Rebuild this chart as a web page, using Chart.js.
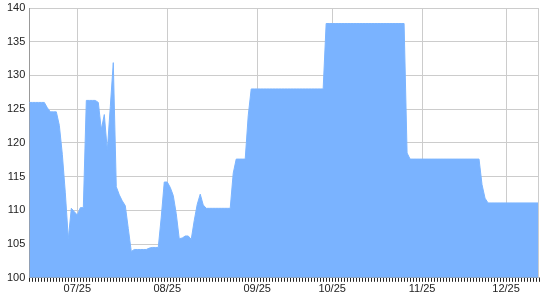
<!DOCTYPE html>
<html>
<head>
<meta charset="utf-8">
<script src="https://cdn.jsdelivr.net/npm/chart.js@4/dist/chart.umd.min.js"></script>
<style>
  html, body { margin: 0; padding: 0; background: #fff; }
  #chart { display: block; }
</style>
</head>
<body>
<canvas id="chart" width="540" height="300"></canvas>
<script>
// month tick labels and how many data points fall in each month
const monthLabels = ['06/25', '07/25', '08/25', '09/25', '10/25', '11/25', '12/25'];
const monthCounts = [16, 30, 30, 25, 30, 28, 12];

// daily values (month by month)
const junValues = [126, 126, 126, 126, 126, 126, 125.2, 124.6, 124.6, 124.6, 122.6, 118.3, 112.6, 105.8, 110.3, 109.8];
const julValues = [109.3, 110.4, 110.4, 126.3, 126.3, 126.3, 126.3, 126.0, 122.0, 124.2, 118.9, 125.4, 131.9, 113.5, 112.3,
                   111.4, 110.7, 107.3, 103.9, 104.2, 104.2, 104.2, 104.2, 104.2, 104.4, 104.5, 104.5, 104.5, 109, 114.2];
const augValues = [114.2, 113.4, 112.2, 109.5, 105.8, 105.9, 106.2, 106.2, 105.7, 108.5, 110.9, 112.4, 110.8, 110.3, 110.3,
                   110.3, 110.3, 110.3, 110.3, 110.3, 110.3, 110.3, 115.5, 117.6, 117.6, 117.6, 117.6, 124, 128, 128];
const sepValues = [128, 128, 128, 128, 128, 128, 128, 128, 128, 128, 128, 128, 128, 128, 128,
                   128, 128, 128, 128, 128, 128, 128, 128, 137.7, 137.7];
const octValues = [137.7, 137.7, 137.7, 137.7, 137.7, 137.7, 137.7, 137.7, 137.7, 137.7, 137.7, 137.7, 137.7, 137.7, 137.7,
                   137.7, 137.7, 137.7, 137.7, 137.7, 137.7, 137.7, 137.7, 137.7, 137.7, 118.5, 117.6, 117.6, 117.6, 117.6];
const novValues = [117.6, 117.6, 117.6, 117.6, 117.6, 117.6, 117.6, 117.6, 117.6, 117.6, 117.6, 117.6, 117.6, 117.6,
                   117.6, 117.6, 117.6, 117.6, 117.6, 117.6, 113.8, 111.8, 111.1, 111.1, 111.1, 111.1, 111.1, 111.1];
const decValues = [111.1, 111.1, 111.1, 111.1, 111.1, 111.1, 111.1, 111.1, 111.1, 111.1, 111.1, 111.1];

// y axis range
const yMin = 100;
const yMax = 140;
const yStep = 5;

const values = [].concat(junValues, julValues, augValues, sepValues, octValues, novValues, decValues);

// one category per point, carrying the month it belongs to
const labels = [];
monthLabels.forEach((m, i) => {
    for (let k = 0; k < monthCounts[i]; k++) labels.push(m);
});

// a month label (and grid line) only where the month changes
function isMonthStart(index) {
    return index > 0 && labels[index] !== labels[index - 1];
}

const ctx = document.getElementById('chart').getContext('2d');
new Chart(ctx, {
    type: 'line',
    data: {
        labels: labels,
        datasets: [{
            data: values,
            borderColor: '#7cb5ff',
            backgroundColor: '#7ab3ff',
            borderWidth: 1,
            pointRadius: 0,
            fill: 'start',
            tension: 0
        }]
    },
    options: {
        responsive: false,
        animation: false,
        layout: { padding: { left: 3, right: 0, top: 8, bottom: 3 } },
        plugins: {
            legend: { display: false },
            tooltip: { enabled: false }
        },
        scales: {
            x: {
                offset: false,
                border: { color: '#999999', width: 1 },
                grid: {
                    color: c => isMonthStart(c.index) ? '#cccccc' : 'rgba(0,0,0,0)',
                    tickColor: '#222222',
                    tickLength: 4,
                    drawOnChartArea: true
                },
                ticks: {
                    autoSkip: false,
                    maxRotation: 0,
                    padding: 1,
                    color: '#222222',
                    font: { family: 'Liberation Sans', size: 11 },
                    callback: function (val, index) {
                        return isMonthStart(index) ? labels[index] : '';
                    }
                }
            },
            y: {
                min: yMin,
                max: yMax,
                border: { color: '#999999', width: 1 },
                grid: { color: '#cccccc', drawTicks: false },
                ticks: {
                    stepSize: yStep,
                    padding: 4,
                    color: '#222222',
                    font: { family: 'Liberation Sans', size: 11 }
                },
                // the top label may sit close to the canvas edge
                afterFit(scale) {
                    scale.paddingTop = 0;
                }
            }
        }
    },
    plugins: [{
        // close the plot frame on the right like the reference
        id: 'rightEdge',
        afterDraw(chart) {
            const a = chart.chartArea;
            const c = chart.ctx;
            c.save();
            c.strokeStyle = '#cccccc';
            c.lineWidth = 1;
            c.beginPath();
            c.moveTo(Math.round(a.right) - 0.5, a.top);
            c.lineTo(Math.round(a.right) - 0.5, a.bottom);
            c.stroke();
            c.restore();
        }
    }]
});
</script>
</body>
</html>
